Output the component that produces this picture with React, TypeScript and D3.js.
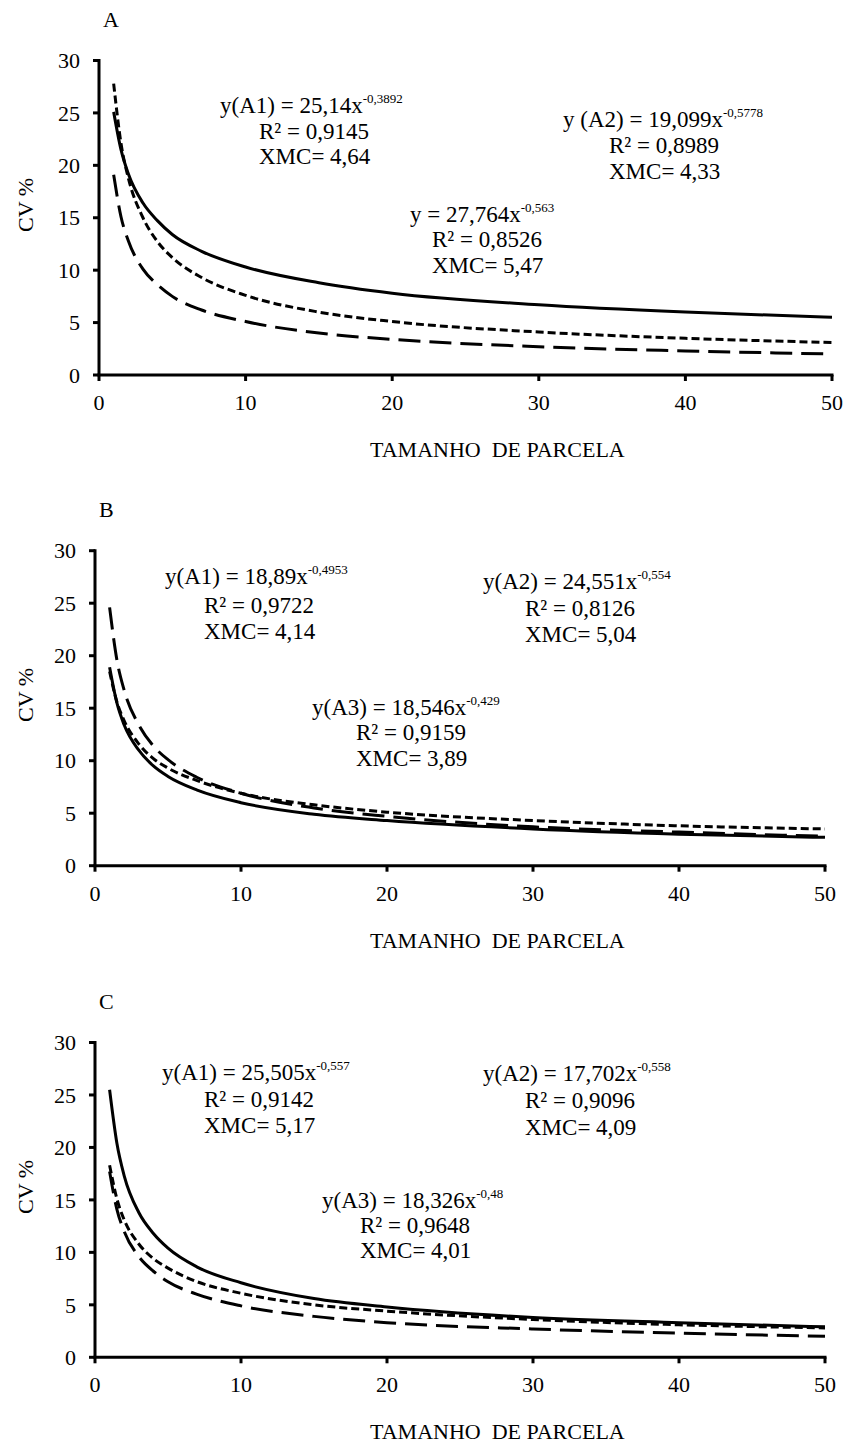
import * as d3 from "d3";

// Tamanho de parcela (eixo x) em que as curvas foram lidas
const parcelas = [1, 1.5, 2, 3, 4, 5, 7, 10, 15, 20, 30, 40, 50];

// CV %, painel A
const cvA_linhaCheia = [25.1, 21.5, 19.2, 16.4, 14.7, 13.4, 11.8, 10.3, 8.8, 7.8, 6.7, 6.0, 5.5];
const cvA_tracoCurto = [27.8, 22.1, 18.8, 15.0, 12.7, 11.2, 9.3, 7.6, 6.0, 5.1, 4.1, 3.5, 3.1];
const cvA_tracoLongo = [19.1, 15.1, 12.8, 10.1, 8.6, 7.5, 6.2, 5.1, 4.0, 3.4, 2.7, 2.3, 2.0];

// painel B
const cvB_linhaCheia = [18.9, 15.5, 13.4, 11.0, 9.5, 8.5, 7.2, 6.0, 4.9, 4.3, 3.5, 3.0, 2.7];
const cvB_tracoCurto = [18.5, 15.6, 13.8, 11.6, 10.2, 9.3, 8.1, 6.9, 5.8, 5.1, 4.3, 3.8, 3.5];
const cvB_tracoLongo = [24.6, 19.6, 16.7, 13.4, 11.4, 10.1, 8.4, 6.9, 5.5, 4.7, 3.7, 3.2, 2.8];

// painel C
const cvC_linhaCheia = [25.5, 20.4, 17.3, 13.8, 11.8, 10.4, 8.6, 7.1, 5.6, 4.8, 3.8, 3.3, 2.9];
const cvC_tracoCurto = [18.3, 15.1, 13.1, 10.8, 9.4, 8.5, 7.2, 6.1, 5.0, 4.4, 3.6, 3.1, 2.8];
const cvC_tracoLongo = [17.7, 14.1, 12.0, 9.6, 8.2, 7.2, 6.0, 4.9, 3.9, 3.3, 2.7, 2.3, 2.0];

const yTicks = [0, 5, 10, 15, 20, 25, 30];
const xTicks = [0, 10, 20, 30, 40, 50];

// textos das equações: [linha 1, expoente, R², XMC]
const eqA = [
  ["y(A1) = 25,14x", "-0,3892", "R² = 0,9145", "XMC= 4,64"],
  ["y (A2) = 19,099x", "-0,5778", "R² = 0,8989", "XMC= 4,33"],
  ["y = 27,764x", "-0,563", "R² = 0,8526", "XMC= 5,47"],
];
const eqB = [
  ["y(A1) = 18,89x", "-0,4953", "R² = 0,9722", "XMC= 4,14"],
  ["y(A2) = 24,551x", "-0,554", "R² = 0,8126", "XMC= 5,04"],
  ["y(A3) = 18,546x", "-0,429", "R² = 0,9159", "XMC= 3,89"],
];
const eqC = [
  ["y(A1) = 25,505x", "-0,557", "R² = 0,9142", "XMC= 5,17"],
  ["y(A2) = 17,702x", "-0,558", "R² = 0,9096", "XMC= 4,09"],
  ["y(A3) = 18,326x", "-0,48", "R² = 0,9648", "XMC= 4,01"],
];

const FONT = "'Liberation Serif', 'Times New Roman', serif";

type Caixa = { x1: number; x2: number; y: number[] };

interface PainelProps {
  letra: string;
  left: number;
  right: number;
  top: number;
  bottom: number;
  series: number[][];
  equacoes: string[][];
  caixas: Caixa[];
  cvY: number;
}

const estilos = [
  { dash: undefined },
  { dash: "8 4" },
  { dash: "22 9" },
];

function Painel({ letra, left, right, top, bottom, series, equacoes, caixas, cvY }: PainelProps) {
  const x = d3.scaleLinear().domain([0, 50]).range([left, right]);
  const y = d3.scaleLinear().domain([0, 30]).range([bottom, top]);

  const linha = d3
    .line<number>()
    .x((_, i) => x(parcelas[i]))
    .y((d) => y(d))
    .curve(d3.curveMonotoneX);

  return (
    <g fontFamily={FONT} fill="#000">
      <text x={left + 4} y={top - 34} fontSize={22}>
        {letra}
      </text>

      {/* eixo y */}
      <line x1={left} x2={left} y1={top - 1.5} y2={bottom} stroke="#000" strokeWidth={3} />
      {yTicks.map((t) => (
        <g key={t}>
          <line x1={left - 6} x2={left} y1={y(t)} y2={y(t)} stroke="#000" strokeWidth={3} />
          <text x={left - 19} y={y(t)} dy="0.35em" textAnchor="end" fontSize={22}>
            {t}
          </text>
        </g>
      ))}
      <text
        transform={`translate(33, ${cvY}) rotate(-90)`}
        textAnchor="middle"
        fontSize={22}
      >
        CV %
      </text>

      {/* eixo x */}
      <line x1={left - 1.5} x2={right + 1.5} y1={bottom} y2={bottom} stroke="#000" strokeWidth={3} />
      {xTicks.map((t) => (
        <g key={t}>
          <line x1={x(t)} x2={x(t)} y1={bottom} y2={bottom + 6} stroke="#000" strokeWidth={3} />
          <text x={x(t)} y={bottom + 35} textAnchor="middle" fontSize={22}>
            {t}
          </text>
        </g>
      ))}
      <text x={370} y={bottom + 82} fontSize={22} style={{ whiteSpace: "pre" }}>
        TAMANHO  DE PARCELA
      </text>

      {/* curvas */}
      {series.map((s, i) => (
        <path
          key={i}
          d={linha(s) || ""}
          fill="none"
          stroke="#000"
          strokeWidth={3}
          strokeDasharray={estilos[i].dash}
        />
      ))}

      {/* equações */}
      {equacoes.map((eq, i) => {
        const c = caixas[i];
        return (
          <g key={i} fontSize={23}>
            <text x={c.x1} y={c.y[0]}>
              {eq[0]}
              <tspan fontSize={13} dy={-10}>
                {eq[1]}
              </tspan>
            </text>
            <text x={c.x2} y={c.y[1]}>
              {eq[2]}
            </text>
            <text x={c.x2} y={c.y[2]}>
              {eq[3]}
            </text>
          </g>
        );
      })}
    </g>
  );
}

export default function App() {
  return (
    <svg
      width={845}
      height={1444}
      style={{ position: "absolute", left: 0, top: 0, background: "#fff" }}
    >
      <rect width={845} height={1444} fill="#fff" />
      <Painel
        letra="A"
        left={99}
        right={832}
        top={60.5}
        bottom={375}
        series={[cvA_linhaCheia, cvA_tracoCurto, cvA_tracoLongo]}
        equacoes={eqA}
        caixas={[
          { x1: 220, x2: 259, y: [113, 139, 164] },
          { x1: 563, x2: 609, y: [127, 153, 179] },
          { x1: 410, x2: 432, y: [222, 247, 273] },
        ]}
        cvY={205}
      />
      <Painel
        letra="B"
        left={95}
        right={825}
        top={550.7}
        bottom={865.7}
        series={[cvB_linhaCheia, cvB_tracoCurto, cvB_tracoLongo]}
        equacoes={eqB}
        caixas={[
          { x1: 165, x2: 204, y: [584, 613, 639] },
          { x1: 483, x2: 525, y: [589, 616, 642] },
          { x1: 312, x2: 356, y: [715, 740, 766] },
        ]}
        cvY={695}
      />
      <Painel
        letra="C"
        left={95}
        right={825}
        top={1042.5}
        bottom={1357.3}
        series={[cvC_linhaCheia, cvC_tracoCurto, cvC_tracoLongo]}
        equacoes={eqC}
        caixas={[
          { x1: 162, x2: 204, y: [1080, 1107, 1133] },
          { x1: 483, x2: 525, y: [1081, 1108, 1135] },
          { x1: 322, x2: 360, y: [1208, 1233, 1258] },
        ]}
        cvY={1187}
      />
    </svg>
  );
}
